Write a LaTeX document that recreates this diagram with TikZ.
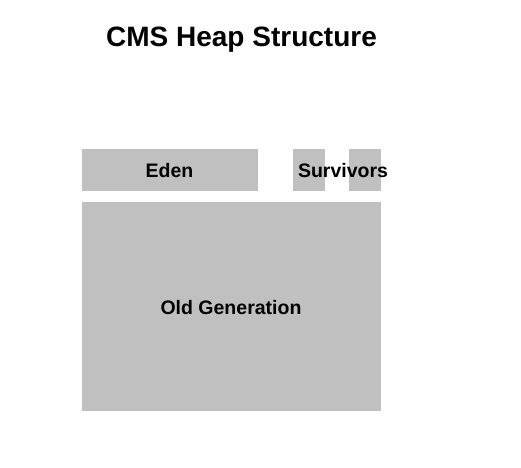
\documentclass[tikz,border=0pt]{standalone}
\usepackage{fontspec}
\setmainfont{Liberation Sans}
\usetikzlibrary{positioning}

\begin{document}
\begin{tikzpicture}[x=1pt,y=-1pt]
    % Colori
    \definecolor{heapgray}{RGB}{192,192,192}
    \tikzset{
        region/.style={fill=heapgray, draw=none, inner sep=0pt, anchor=north west},
        label/.style={font=\fontsize{19.5}{22}\selectfont\bfseries, anchor=base}
    }

    % Area del disegno
    \useasboundingbox (0,0) rectangle (521,467);

    % Titolo
    \node[font=\fontsize{28}{32}\selectfont\bfseries, anchor=base] (title) at (241.5,46) {CMS Heap Structure};

    % Generazione giovane
    \node[region, minimum width=176pt, minimum height=42pt] (eden) at (82,149) {};
    \node[region, minimum width=32pt, minimum height=42pt] (surv1) at (293,149) {};
    \node[region, minimum width=32pt, minimum height=42pt] (surv2) at (349,149) {};

    % Generazione vecchia
    \node[region, minimum width=299pt, minimum height=209pt] (old) at (82,202) {};

    % Etichette
    \node[label] (edenlabel) at (169.5,177) {Eden};
    \node[label] (survlabel) at (343,177) {Survivors};
    \node[label] (oldlabel) at (231,314) {Old Generation};
\end{tikzpicture}
\end{document}
